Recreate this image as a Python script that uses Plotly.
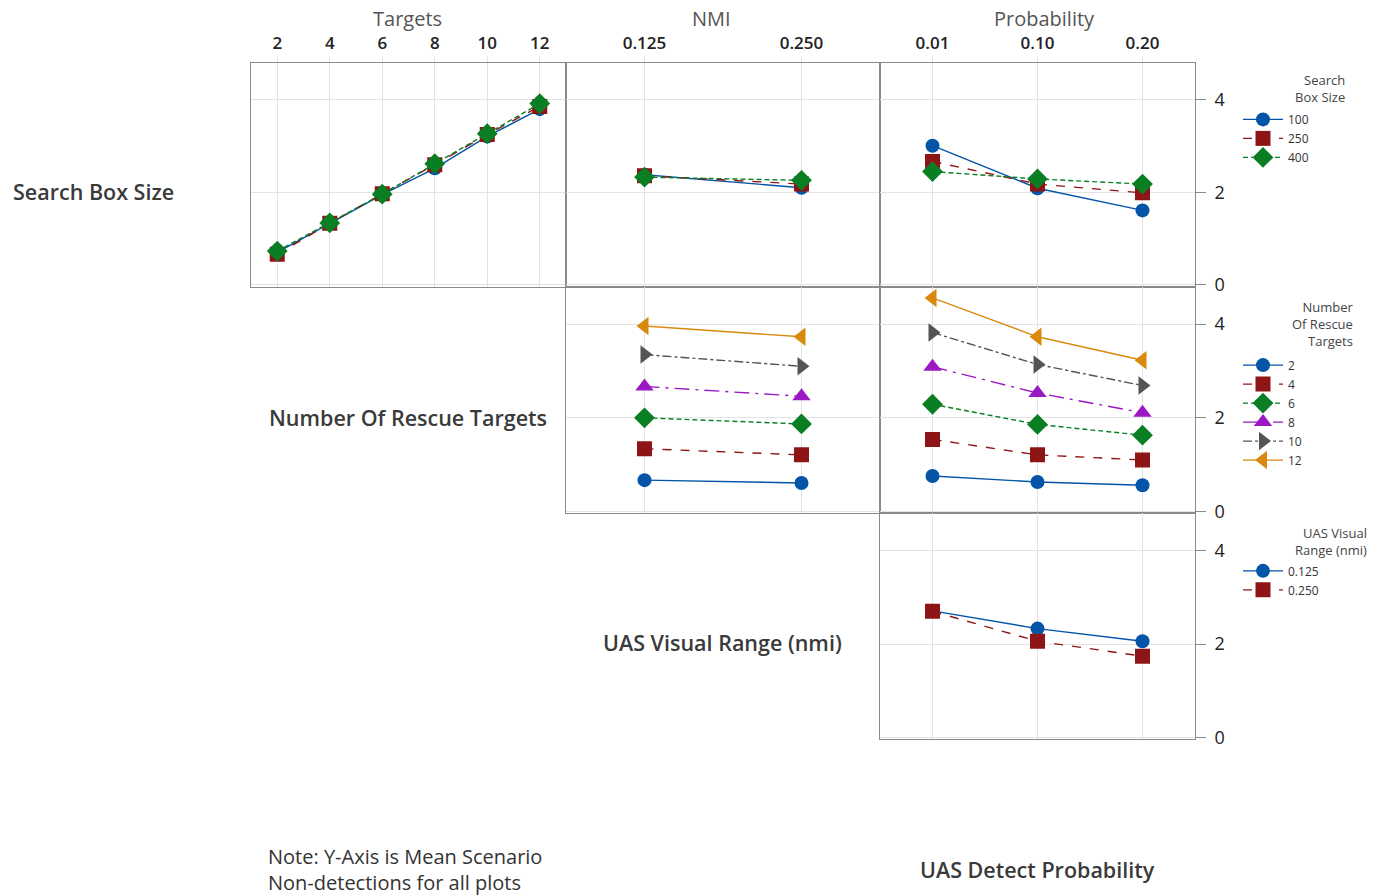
import plotly.graph_objects as go

# ---- factor levels -------------------------------------------------------
targets_levels = ["2", "4", "6", "8", "10", "12"]
nmi_levels = ["0.125", "0.250"]
prob_levels = ["0.01", "0.10", "0.20"]

box_size_levels = ["100", "250", "400"]
rescue_levels = ["2", "4", "6", "8", "10", "12"]
visual_levels = ["0.125", "0.250"]

# ---- mean non-detections: Search Box Size interactions -------------------
box100_by_targets = [0.70, 1.32, 1.95, 2.52, 3.21, 3.80]
box250_by_targets = [0.66, 1.33, 1.97, 2.60, 3.25, 3.86]
box400_by_targets = [0.73, 1.34, 1.96, 2.62, 3.27, 3.92]

box100_by_nmi = [2.38, 2.10]
box250_by_nmi = [2.36, 2.18]
box400_by_nmi = [2.33, 2.26]

box100_by_prob = [3.01, 2.09, 1.61]
box250_by_prob = [2.67, 2.18, 1.99]
box400_by_prob = [2.45, 2.29, 2.18]

# ---- Number Of Rescue Targets interactions -------------------------------
rescue2_by_nmi = [0.67, 0.61]
rescue4_by_nmi = [1.34, 1.21]
rescue6_by_nmi = [2.00, 1.87]
rescue8_by_nmi = [2.67, 2.46]
rescue10_by_nmi = [3.35, 3.10]
rescue12_by_nmi = [3.96, 3.73]

rescue2_by_prob = [0.76, 0.63, 0.56]
rescue4_by_prob = [1.54, 1.21, 1.10]
rescue6_by_prob = [2.29, 1.86, 1.63]
rescue8_by_prob = [3.09, 2.53, 2.11]
rescue10_by_prob = [3.82, 3.14, 2.69]
rescue12_by_prob = [4.56, 3.73, 3.23]

# ---- UAS Visual Range interaction ----------------------------------------
visual125_by_prob = [2.71, 2.33, 2.06]
visual250_by_prob = [2.70, 2.06, 1.74]

# ---- styles ----------------------------------------------------------------
BLUE, RED, GREEN = "#0454A8", "#8E1515", "#0A7E22"
PURPLE, GREY, ORANGE = "#9B18C4", "#545454", "#D98A0C"

style = {
    0: dict(color=BLUE, symbol="circle", size=14, dash="solid"),
    1: dict(color=RED, symbol="square", size=15, dash="dash"),
    2: dict(color=GREEN, symbol="diamond", size=16, dash="5px,3px"),
    3: dict(color=PURPLE, symbol="triangle-up", size=16, dash="longdashdot"),
    4: dict(color=GREY, symbol="triangle-right", size=16, dash="dashdot"),
    5: dict(color=ORANGE, symbol="triangle-left", size=16, dash="solid"),
}

W, H = 1374, 895
# vertical layout grid: pixel rows are laid out on an 887-unit scale
YS = 895 / 887
FONT = "Open Sans"

fig = go.Figure()


def add_line(x, y, idx, name, axes, legend, show):
    s = style[idx]
    fig.add_trace(go.Scatter(
        x=x, y=y, mode="lines+markers", name=name,
        xaxis=axes[0], yaxis=axes[1],
        line=dict(color=s["color"], width=1.4, dash=s["dash"]),
        marker=dict(color=s["color"], symbol=s["symbol"], size=s["size"],
                    line=dict(width=0)),
        legend=legend, showlegend=show, hoverinfo="x+y+name",
    ))


# row 1: Search Box Size
box_series = [
    (box100_by_targets, box100_by_nmi, box100_by_prob),
    (box250_by_targets, box250_by_nmi, box250_by_prob),
    (box400_by_targets, box400_by_nmi, box400_by_prob),
]
for i, (yt, yn, yp) in enumerate(box_series):
    nm = box_size_levels[i]
    add_line(targets_levels, yt, i, nm, ("x", "y"), "legend", True)
    add_line(nmi_levels, yn, i, nm, ("x2", "y2"), "legend", False)
    add_line(prob_levels, yp, i, nm, ("x3", "y3"), "legend", False)

# row 2: Number Of Rescue Targets
rescue_series = [
    (rescue2_by_nmi, rescue2_by_prob),
    (rescue4_by_nmi, rescue4_by_prob),
    (rescue6_by_nmi, rescue6_by_prob),
    (rescue8_by_nmi, rescue8_by_prob),
    (rescue10_by_nmi, rescue10_by_prob),
    (rescue12_by_nmi, rescue12_by_prob),
]
for i, (yn, yp) in enumerate(rescue_series):
    nm = rescue_levels[i]
    add_line(nmi_levels, yn, i, nm, ("x4", "y4"), "legend2", True)
    add_line(prob_levels, yp, i, nm, ("x5", "y5"), "legend2", False)

# row 3: UAS Visual Range
for i, yp in enumerate([visual125_by_prob, visual250_by_prob]):
    add_line(prob_levels, yp, i, visual_levels[i], ("x6", "y6"), "legend3", True)

# ---- panel geometry (pixels -> paper) ------------------------------------
cols = [(251, 566), (566, 880), (880, 1195)]
rows = [(63, 287), (287, 514), (514, 740)]


def px_y(y):
    return 1 - y * YS / H


def xdom(c):
    return [cols[c][0] / W, cols[c][1] / W]


def ydom(r):
    return [px_y(rows[r][1]), px_y(rows[r][0])]


YRANGE = [-0.04, 4.8]
GRID = "#e3e3e3"
FRAME = "#8a8a8a"
XTICKFONT = dict(family=FONT, size=17, color="#222222", weight=600)
YTICKFONT = dict(family=FONT, size=18, color="#222222", weight=500)

panels = [
    # (axis suffix, row, col, levels, top labels, right labels)
    ("", 0, 0, targets_levels, True, False),
    ("2", 0, 1, nmi_levels, True, False),
    ("3", 0, 2, prob_levels, True, True),
    ("4", 1, 1, nmi_levels, False, False),
    ("5", 1, 2, prob_levels, False, True),
    ("6", 2, 2, prob_levels, False, True),
]

layout_axes = {}
for suf, r, c, levels, top, right in panels:
    xa = dict(
        domain=xdom(c), anchor="y" + suf, type="category",
        categoryorder="array", categoryarray=levels,
        range=[-0.5, len(levels) - 0.5], side="top",
        showgrid=True, gridcolor=GRID, gridwidth=1,
        showline=True, mirror=True, linecolor=FRAME, linewidth=1,
        zeroline=False, showticklabels=top,
        ticks="outside" if top else "", ticklen=6, tickcolor=GRID,
        tickfont=XTICKFONT, fixedrange=True,
    )
    ya = dict(
        domain=ydom(r), anchor="x" + suf, range=YRANGE,
        tickvals=[0, 2, 4], showgrid=True, gridcolor=GRID, gridwidth=1,
        showline=True, mirror=True, linecolor=FRAME, linewidth=1,
        zeroline=False, side="right", showticklabels=right,
        ticks="outside" if right else "", ticklen=10, tickcolor=FRAME,
        tickfont=YTICKFONT, ticklabelstandoff=5, fixedrange=True,
    )
    layout_axes["xaxis" + suf] = xa
    layout_axes["yaxis" + suf] = ya

fig.update_layout(**layout_axes)

# ---- legends -------------------------------------------------------------
LEGFONT = dict(family=FONT, size=12, color="#333333")


def legend_at(top_px):
    return dict(x=1238 / W, y=px_y(top_px), xanchor="left", yanchor="top",
                font=LEGFONT, bgcolor="rgba(0,0,0,0)", borderwidth=0,
                itemwidth=40, tracegroupgap=0, traceorder="normal")


fig.update_layout(legend=legend_at(105), legend2=legend_at(351),
                  legend3=legend_at(557))

# ---- text ------------------------------------------------------------------
notes = []


def text(x, y, s, size, color="#333333", weight=600, xanchor="center",
         align="center"):
    notes.append(dict(
        x=x / W, y=px_y(y), xref="paper", yref="paper", text=s,
        showarrow=False, xanchor=xanchor, yanchor="middle", align=align,
        font=dict(family=FONT, size=size, color=color, weight=weight)))


# factor titles above the top axes
text(407, 19, "Targets", 20, color="#555555", weight=400)
text(712, 19, "NMI", 20, color="#555555", weight=400)
text(1044, 19, "Probability", 20, color="#555555", weight=400)

text(93, 192, "Search Box Size", 21.5, color="#3a3a3a")
text(408, 418, "Number Of Rescue Targets", 21.5, color="#3a3a3a")
text(722, 643, "UAS Visual Range (nmi)", 21.5, color="#3a3a3a")
text(1037, 870, "UAS Detect Probability", 21.5, color="#3a3a3a")
text(266, 870, "Note: Y-Axis is Mean Scenario<br>Non-detections for all plots",
     20, weight=400, xanchor="left", align="left")

# legend headings
text(1347, 89, "Search<br>Box Size", 13, color="#444444", weight=400,
     xanchor="right", align="right")
text(1356, 324, "Number<br>Of Rescue<br>Targets", 13, color="#444444",
     weight=400, xanchor="right", align="right")
text(1369, 542, "UAS Visual<br>Range (nmi)", 13, color="#444444", weight=400,
     xanchor="right", align="right")

fig.update_layout(
    annotations=notes, width=W, height=H,
    margin=dict(l=0, r=0, t=0, b=0),
    paper_bgcolor="white", plot_bgcolor="white",
    font=dict(family=FONT, color="#333333"),
)

fig.write_html("out.html")
